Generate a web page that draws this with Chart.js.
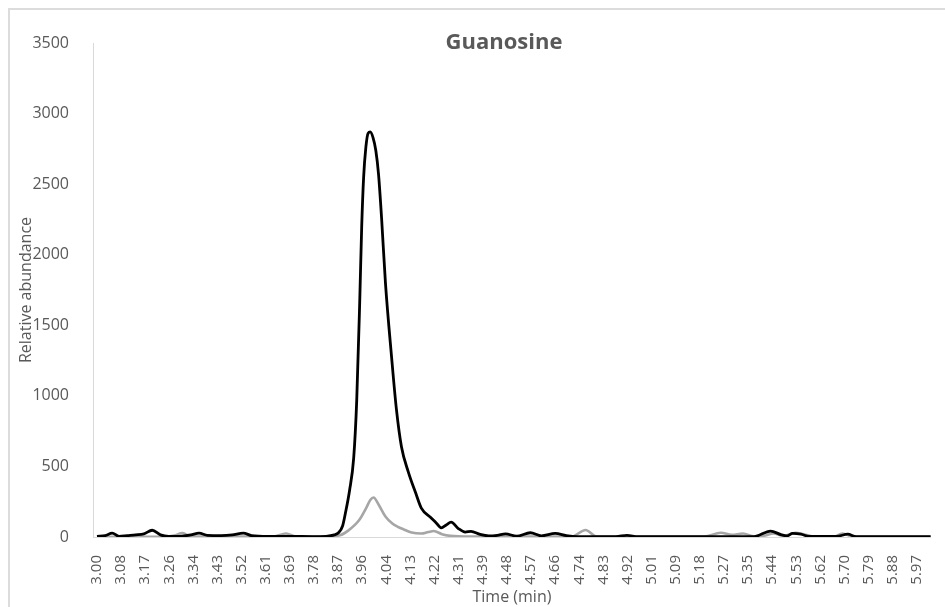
<!DOCTYPE html>
<html>
<head>
<meta charset="UTF-8">
<title>Guanosine</title>
<style>
  body { margin: 0; background: #fff; }
  .frame {
    position: absolute; left: 8px; top: 8px; width: 1000px; height: 700px;
    border: 2px solid #dcdcdc; box-sizing: border-box;
  }
  .wrap { position: absolute; left: 0; top: 0; width: 945px; height: 607px; }
</style>
<script src="https://cdn.jsdelivr.net/npm/chart.js"></script>
</head>
<body>
<div class="frame"></div>
<div class="wrap"><canvas id="chart"></canvas></div>
<script>
// tick labels shown on the time axis (evenly spaced, as in the original)
var xTickLabels = ['3.00','3.08','3.17','3.26','3.34','3.43','3.52','3.61','3.69','3.78',
  '3.87','3.96','4.04','4.13','4.22','4.31','4.39','4.48','4.57','4.66','4.74','4.83',
  '4.92','5.01','5.09','5.18','5.27','5.35','5.44','5.53','5.62','5.70','5.79','5.88','5.97'];

// black trace
var blackTimes = [3.00,3.03,3.055,3.08,3.11,3.14,3.17,3.20,3.23,3.26,3.30,3.34,3.37,3.40,3.45,3.49,
  3.53,3.56,3.62,3.70,3.78,3.83,3.86,3.875,3.89,3.90,3.915,3.93,3.941,3.952,3.959,3.966,3.974,
  3.982,3.99,4.00,4.01,4.02,4.031,4.045,4.067,4.085,4.103,4.128,4.154,4.175,4.208,4.229,4.247,4.265,
  4.283,4.309,4.334,4.355,4.388,4.42,4.45,4.48,4.52,4.57,4.61,4.66,4.70,4.74,4.88,4.92,4.96,
  5.38,5.44,5.48,5.50,5.52,5.55,5.58,5.68,5.72,5.75,6.02];
var blackValues = [5,10,28,5,10,15,22,48,15,4,5,15,28,12,10,15,
  28,10,4,5,3,5,15,30,80,170,330,560,970,1680,2200,2550,2760,
  2860,2870,2830,2740,2570,2260,1800,1280,900,640,460,315,205,140,100,65,85,
  105,60,35,40,18,8,12,22,6,30,8,25,10,3,3,12,2,
  3,42,15,8,25,20,4,5,20,2,2];

// grey trace
var greyTimes = [3.00,3.25,3.28,3.31,3.34,3.64,3.685,3.72,3.84,3.88,3.91,3.95,3.975,3.99,4.002,
  4.02,4.045,4.07,4.09,4.11,4.14,4.175,4.20,4.22,4.25,4.28,4.35,4.72,4.77,4.81,5.20,5.26,5.30,
  5.34,5.38,5.42,5.45,5.49,5.53,5.56,5.60,5.67,5.70,5.74,6.02];
var greyValues = [2,2,10,28,3,3,25,3,5,12,45,120,205,262,280,
  230,145,95,72,55,32,25,35,42,20,8,3,3,50,4,3,30,15,
  25,5,10,25,8,30,20,3,3,25,3,2];

function toPoints(times, values) {
  return times.map(function(t, i) { return { x: t, y: values[i] }; });
}

var firstTick = 3.00, lastTick = 5.97;
var textGrey = '#595959';

// title drawn inside the plot area, like the original
var titleInside = {
  id: 'titleInside',
  afterDraw: function(chart) {
    var ctx = chart.ctx, a = chart.chartArea;
    ctx.save();
    ctx.font = 'bold 22px "Open Sans"';
    ctx.fillStyle = textGrey;
    ctx.textAlign = 'center';
    ctx.textBaseline = 'middle';
    ctx.fillText('Guanosine', (a.left + a.right) / 2 - 8, 43);
    ctx.restore();
  }
};

new Chart(document.getElementById('chart'), {
  type: 'line',
  data: {
    datasets: [{
      data: toPoints(blackTimes, blackValues),
      borderColor: '#000000',
      borderWidth: 2.8,
      pointRadius: 0,
      cubicInterpolationMode: 'monotone'
    }, {
      data: toPoints(greyTimes, greyValues),
      borderColor: '#a6a6a6',
      borderWidth: 2.6,
      pointRadius: 0,
      cubicInterpolationMode: 'monotone'
    }]
  },
  options: {
    responsive: true,
    maintainAspectRatio: false,
    animation: false,
    layout: { padding: { left: 0, right: 10, top: 43, bottom: 0 } },
    plugins: { legend: { display: false }, tooltip: { enabled: false } },
    scales: {
      x: {
        type: 'linear',
        min: 2.9856,
        max: 6.021,
        grid: { display: false },
        border: { display: true, color: '#d9d9d9', width: 1 },
        afterBuildTicks: function(axis) {
          var n = xTickLabels.length;
          axis.ticks = xTickLabels.map(function(l, i) {
            return { value: firstTick + i * (lastTick - firstTick) / (n - 1) };
          });
        },
        afterFit: function(scale) { scale.height = 70; },
        ticks: {
          autoSkip: false,
          minRotation: 90,
          maxRotation: 90,
          padding: 10,
          color: textGrey,
          font: { family: 'Open Sans', size: 15 },
          callback: function(v, i) { return xTickLabels[i]; }
        },
        title: {
          display: true,
          text: 'Time (min)',
          color: textGrey,
          font: { family: 'Open Sans', size: 16 },
          padding: { top: 0, bottom: 0 }
        }
      },
      y: {
        min: 0,
        max: 3500,
        grid: { display: false },
        border: { display: true, color: '#d9d9d9', width: 1 },
        afterFit: function(scale) { scale.width = 93; },
        ticks: {
          stepSize: 500,
          padding: 16,
          color: textGrey,
          font: { family: 'Open Sans', size: 16 },
          callback: function(v) { return String(v); }
        },
        title: {
          display: true,
          text: 'Relative abundance',
          color: textGrey,
          font: { family: 'Open Sans', size: 16 },
          padding: { top: 17, bottom: 0 }
        }
      }
    }
  },
  plugins: [titleInside]
});
</script>
</body>
</html>
